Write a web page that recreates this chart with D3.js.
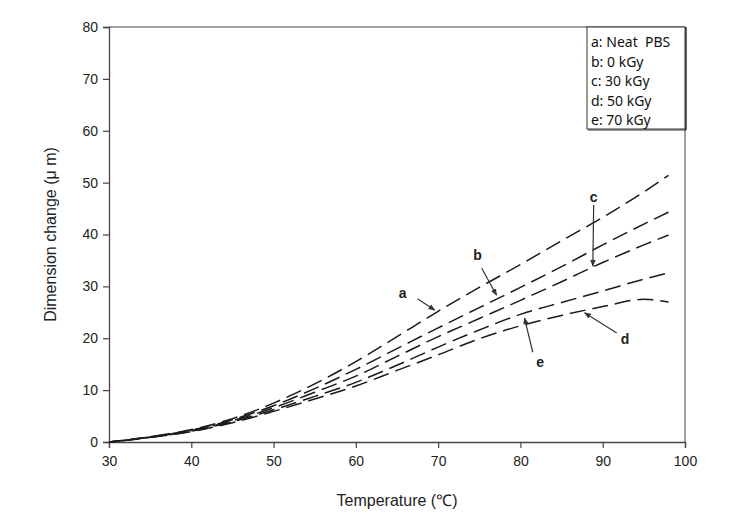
<!DOCTYPE html>
<html><head><meta charset="utf-8">
<script src="https://cdn.jsdelivr.net/npm/d3@7"></script>
<style>body{margin:0;background:#fff}svg{display:block}</style>
</head><body><svg id="c" width="745" height="531"></svg>
<script>
const temps = [30,35,40,45,50,55,60,65,70,75,80,85,90,95,98];
const seriesA = [0,1.0,2.4,4.5,7.5,11.2,15.5,20.3,25.2,29.8,34.2,38.8,43.3,48.2,51.4];
const seriesB = [0,1.0,2.3,4.3,7.0,10.3,14.0,18.0,22.0,25.9,29.8,33.8,38.0,42.0,44.3];
const seriesC = [0,0.9,2.2,4.1,6.6,9.6,12.7,16.5,20.3,23.8,27.3,30.9,34.6,38.0,39.9];
const seriesD = [0,0.9,2.0,3.7,5.9,8.3,10.8,13.8,16.8,19.9,22.4,24.4,26.1,27.5,27.0];
const seriesE = [0,0.9,2.1,3.9,6.2,8.8,11.5,14.8,18.3,21.6,24.6,26.9,29.1,31.4,32.6];
const legendLabels = ["a: Neat  PBS","b: 0 kGy","c: 30 kGy","d: 50 kGy","e: 70 kGy"];
const xTicks = [30,40,50,60,70,80,90,100];
const yTicks = [0,10,20,30,40,50,60,70,80];
// annotation: letter, label pos (T,v), arrow tail (T,v), arrow tip (T,v)
const annLetters = ["a","b","c","d","e"];
const annLabel = [[65.7,28.7],[74.8,36.0],[88.9,47.2],[92.7,19.9],[82.4,15.4]];
const annTail  = [[67.5,27.6],[75.3,33.5],[88.9,45.7],[91.7,21.0],[81.5,17.3]];
const annTip   = [[69.6,25.4],[77.1,28.3],[88.8,33.9],[87.8,24.9],[80.5,23.9]];

const svg = d3.select("#c");
const L=109,R=685,T=27,B=442;
const x = d3.scaleLinear().domain([30,100]).range([L,R]);
const y = d3.scaleLinear().domain([0,80]).range([B,T]);
const ink="#1a1a1a";
const tickFont="'Liberation Sans', Arial, sans-serif";

svg.append("defs").append("marker").attr("id","ah").attr("viewBox","0 0 10 10")
  .attr("refX",9).attr("refY",5).attr("markerWidth",7).attr("markerHeight",7)
  .attr("orient","auto").attr("markerUnits","userSpaceOnUse")
  .append("path").attr("d","M0,1 L10,5 L0,9 Z").attr("fill","#333");

// frame
svg.append("line").attr("x1",L).attr("x2",R).attr("y1",T).attr("y2",T).attr("stroke","#444").attr("stroke-width",1);
svg.append("line").attr("x1",R).attr("x2",R).attr("y1",T).attr("y2",B).attr("stroke","#444").attr("stroke-width",1);

const xa = svg.append("g").attr("transform",`translate(0,${B})`)
  .call(d3.axisBottom(x).tickValues(xTicks).tickSize(6).tickPadding(5).tickFormat(d3.format("d")));
const ya = svg.append("g").attr("transform",`translate(${L},0)`)
  .call(d3.axisLeft(y).tickValues(yTicks).tickSize(6).tickPadding(5).tickFormat(d3.format("d")));
[xa,ya].forEach(g=>{
  g.select(".domain").attr("stroke","#444").attr("stroke-width",1.3);
  g.selectAll(".tick line").attr("stroke","#444").attr("stroke-width",1.2);
  g.selectAll("text").attr("font-family",tickFont).attr("font-size",14).attr("fill","#222");
});
xa.selectAll("text").attr("dy","0.95em");

svg.append("text").attr("x",(L+R)/2).attr("y",506).attr("text-anchor","middle")
  .attr("font-family",tickFont).attr("font-size",16).attr("fill","#222").text("Temperature (℃)");
svg.append("text").attr("transform",`translate(56,${(T+B)/2}) rotate(-90)`).attr("text-anchor","middle")
  .attr("font-family",tickFont).attr("font-size",16).attr("fill","#222").text("Dimension change (μ m)");

const all=[seriesA,seriesB,seriesC,seriesD,seriesE];
const line=d3.line().x((d,i)=>x(temps[i])).y(d=>y(d)).curve(d3.curveMonotoneX);
const offsets=[0,5,10,3,8];
all.forEach((s,k)=>{
  svg.append("path").datum(s).attr("d",line).attr("fill","none")
    .attr("stroke",ink).attr("stroke-width",1.5)
    .attr("stroke-dasharray","16,7").attr("stroke-dashoffset",offsets[k]);
});

// annotations
annLetters.forEach((l,i)=>{
  svg.append("line").attr("x1",x(annTail[i][0])).attr("y1",y(annTail[i][1]))
    .attr("x2",x(annTip[i][0])).attr("y2",y(annTip[i][1]))
    .attr("stroke","#333").attr("stroke-width",1.2).attr("marker-end","url(#ah)");
  svg.append("text").attr("x",x(annLabel[i][0])).attr("y",y(annLabel[i][1])).attr("dy","0.35em")
    .attr("text-anchor","middle").attr("font-family",tickFont).attr("font-weight","bold")
    .attr("font-size",14).attr("fill","#222").text(l);
});

// legend
const lg=svg.append("g");
lg.append("rect").attr("x",587).attr("y",T).attr("width",R-587).attr("height",102)
  .attr("fill","#fff").attr("stroke","#333").attr("stroke-width",1);
lg.append("line").attr("x1",R+1).attr("x2",R+1).attr("y1",T).attr("y2",T+103).attr("stroke","#333").attr("stroke-width",1.5);
lg.append("line").attr("x1",588).attr("x2",R+1).attr("y1",T+103).attr("y2",T+103).attr("stroke","#333").attr("stroke-width",1);
legendLabels.forEach((t,i)=>{
  lg.append("text").attr("x",591).attr("y",42+i*19.6).attr("dy","0.35em")
    .attr("font-family","'Noto Sans', 'Open Sans', sans-serif").attr("font-size",14).attr("fill","#111")
    .attr("xml:space","preserve").style("white-space","pre").text(t);
});
</script></body></html>
